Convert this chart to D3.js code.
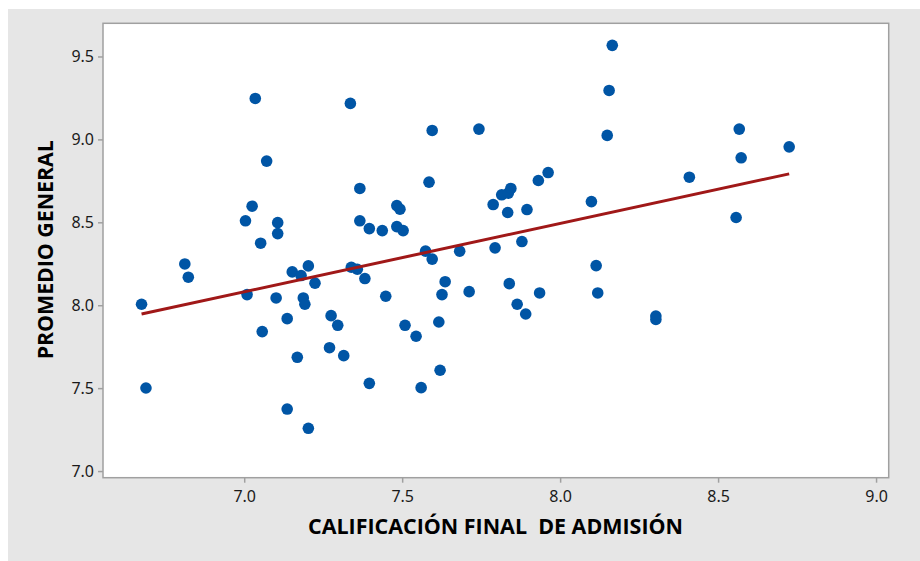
<!DOCTYPE html>
<html>
<head>
<meta charset="utf-8">
<script src="https://cdn.jsdelivr.net/npm/d3@7"></script>
<style>
  html, body { margin: 0; padding: 0; background: #fff; }
  svg { display: block; }
  .tick text { font-family: "Noto Sans", "Open Sans", sans-serif; font-size: 16px; fill: #1a1a1a; }
  .axis-title { font-family: "Open Sans", "Noto Sans", sans-serif; font-weight: bold; fill: #000; }
</style>
</head>
<body>
<svg id="chart" width="920" height="561"></svg>
<script>
// Admission score vs general average
const admision = [
  6.675, 6.689, 6.812, 6.823, 7.004, 7.009, 7.025, 7.035, 7.052, 7.057,
  7.071, 7.106, 7.106, 7.101, 7.136, 7.136, 7.152, 7.168, 7.180, 7.187,
  7.192, 7.203, 7.203, 7.224, 7.275, 7.296, 7.270, 7.315, 7.336, 7.339,
  7.358, 7.366, 7.366, 7.396, 7.382, 7.437, 7.448, 7.396, 7.483, 7.493,
  7.483, 7.503, 7.509, 7.544, 7.560, 7.585, 7.595, 7.574, 7.595, 7.616,
  7.620, 7.626, 7.636, 7.682, 7.712, 7.743, 7.788, 7.794, 7.815, 7.836,
  7.844, 7.834, 7.839, 7.864, 7.891, 7.879, 7.895, 7.931, 7.962, 7.935,
  8.099, 8.114, 8.119, 8.149, 8.155, 8.165, 8.303, 8.303, 8.409, 8.557,
  8.567, 8.573, 8.725
];
const promedio = [
  8.006, 7.501, 8.249, 8.169, 8.509, 8.064, 8.597, 9.247, 8.374, 7.841,
  8.869, 8.498, 8.432, 8.044, 7.374, 7.919, 8.201, 7.686, 8.179, 8.044,
  8.006, 8.237, 7.258, 8.133, 7.937, 7.879, 7.744, 7.696, 9.217, 8.229,
  8.217, 8.704, 8.509, 8.462, 8.161, 8.450, 8.054, 7.529, 8.601, 8.579,
  8.474, 8.450, 7.879, 7.813, 7.503, 8.742, 9.054, 8.326, 8.278, 7.899,
  7.608, 8.064, 8.142, 8.326, 8.082, 9.062, 8.607, 8.346, 8.666, 8.676,
  8.704, 8.559, 8.130, 8.006, 7.947, 8.384, 8.577, 8.752, 8.800, 8.074,
  8.625, 8.239, 8.074, 9.024, 9.295, 9.567, 7.935, 7.914, 8.772, 8.529,
  9.062, 8.889, 8.955
];
// fitted line end points
const fitX = [6.675, 8.725];
const fitY = [7.947, 8.792];

const xTicks = [7.0, 7.5, 8.0, 8.5, 9.0];
const yTicks = [7.0, 7.5, 8.0, 8.5, 9.0, 9.5];

const svg = d3.select("#chart");
const plot = { left: 103, top: 23.3, right: 888.7, bottom: 477.7 };

svg.append("rect")
  .attr("x", 8).attr("y", 9)
  .attr("width", 912).attr("height", 552)
  .attr("fill", "#e6e6e6");

svg.append("rect")
  .attr("x", plot.left).attr("y", plot.top)
  .attr("width", plot.right - plot.left).attr("height", plot.bottom - plot.top)
  .attr("fill", "#fff");

const x = d3.scaleLinear().domain([6.553, 9.04]).range([plot.left, plot.right]);
const y = d3.scaleLinear().domain([6.96, 9.70]).range([plot.bottom, plot.top]);

const xAxis = svg.append("g")
  .attr("transform", `translate(0,${plot.bottom})`)
  .call(d3.axisBottom(x).tickValues(xTicks).tickFormat(d3.format(".1f")).tickSize(5).tickPadding(8));
const yAxis = svg.append("g")
  .attr("transform", `translate(${plot.left},0)`)
  .call(d3.axisLeft(y).tickValues(yTicks).tickFormat(d3.format(".1f")).tickSize(5).tickPadding(4));

[xAxis, yAxis].forEach((g) => {
  g.select(".domain").remove();
  g.selectAll(".tick line").attr("stroke", "#a0a0a0").attr("stroke-width", 1.5);
});

svg.append("rect")
  .attr("x", plot.left).attr("y", plot.top)
  .attr("width", plot.right - plot.left).attr("height", plot.bottom - plot.top)
  .attr("fill", "none")
  .attr("stroke", "#a0a0a0")
  .attr("stroke-width", 1.5);

svg.append("g")
  .selectAll("circle")
  .data(admision.map((v, i) => [v, promedio[i]]))
  .join("circle")
  .attr("cx", (d) => x(d[0]))
  .attr("cy", (d) => y(d[1]))
  .attr("r", 5.8)
  .attr("fill", "#0055a5");

svg.append("path")
  .datum(fitX.map((v, i) => [v, fitY[i]]))
  .attr("d", d3.line().x((d) => x(d[0])).y((d) => y(d[1])))
  .attr("fill", "none")
  .attr("stroke", "#a01818")
  .attr("stroke-width", 3);

svg.append("text")
  .attr("class", "axis-title")
  .attr("x", 308).attr("y", 534)
  .attr("font-size", 21)
  .attr("textLength", 375)
  .attr("lengthAdjust", "spacingAndGlyphs")
  .attr("xml:space", "preserve")
  .text("CALIFICACIÓN FINAL  DE ADMISIÓN");

svg.append("text")
  .attr("class", "axis-title")
  .attr("transform", "translate(53.3,359.3) rotate(-90)")
  .attr("font-size", 21)
  .attr("textLength", 219)
  .attr("lengthAdjust", "spacingAndGlyphs")
  .text("PROMEDIO GENERAL");
</script>
</body>
</html>
